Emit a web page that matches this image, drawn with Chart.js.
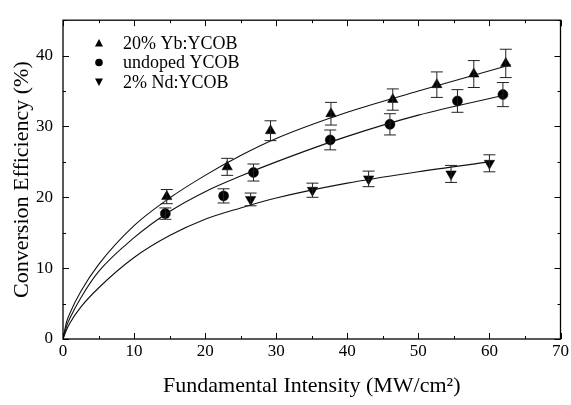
<!DOCTYPE html>
<html>
<head>
<meta charset="utf-8">
<script src="https://cdn.jsdelivr.net/npm/chart.js@4.4.1/dist/chart.umd.min.js"></script>
<style>
  body { margin: 0; background: #fff; }
  #wrap { width: 571px; height: 405px; }
</style>
</head>
<body>
<div id="wrap"><canvas id="myChart"></canvas></div>
<script>
// measured points
let ybX = [14.6, 23.1, 29.2, 37.7, 46.4, 52.6, 57.8, 62.3];
let ybY = [20.1, 24.3, 29.4, 31.8, 33.8, 35.9, 37.4, 38.9];
let ybErr = [1.0, 1.2, 1.4, 1.6, 1.5, 1.8, 1.9, 2.0];

let undX = [14.4, 22.6, 26.8, 37.6, 46.0, 55.5, 61.9];
let undY = [17.7, 20.2, 23.5, 28.1, 30.3, 33.6, 34.5];
let undErr = [0.8, 1.0, 1.2, 1.4, 1.5, 1.6, 1.7];

let ndX = [26.4, 35.1, 43.0, 54.6, 60.0];
let ndY = [19.7, 21.0, 22.6, 23.3, 24.8];
let ndErr = [0.9, 1.0, 1.1, 1.2, 1.2];

// fitted curves
let fitYbX = [0, 0.5, 1, 2.5, 5, 10, 15, 20, 25, 30, 40, 50, 63];
let fitYbY = [0, 2.4, 3.7, 6.7, 10.5, 16.0, 19.9, 23.1, 25.9, 28.3, 32.0, 35.0, 38.7];
let fitUndX = [0, 0.5, 1, 2.5, 5, 10, 15, 20, 25, 30, 40, 50, 62];
let fitUndY = [0, 1.8, 3.0, 5.8, 9.5, 14.3, 18.0, 20.8, 23.0, 25.0, 28.6, 31.6, 34.4];
let fitNdX = [0, 0.5, 1, 2.5, 5, 10, 15, 20, 25, 30, 40, 50, 60];
let fitNdY = [0, 1.3, 2.3, 4.5, 7.2, 11.5, 14.6, 16.9, 18.5, 19.9, 22.0, 23.6, 25.0];

let labels = ['20% Yb:YCOB', 'undoped YCOB', '2% Nd:YCOB'];

const serif = "'Liberation Serif', 'Times New Roman', serif";

function pts(xs, ys) {
    return xs.map((x, i) => ({ x: x, y: ys[i] }));
}

function fitLine(xs, ys) {
    return {
        data: pts(xs, ys),
        showLine: true,
        borderColor: '#111',
        borderWidth: 1.1,
        pointRadius: 0,
        cubicInterpolationMode: 'monotone',
        fill: false
    };
}

function markers(label, xs, ys, errs, style, rot, r) {
    return {
        label: label,
        data: pts(xs, ys),
        err: errs,
        showLine: false,
        pointStyle: style,
        pointRotation: rot,
        pointRadius: r,
        backgroundColor: '#000',
        borderColor: '#000',
        borderWidth: 0.5
    };
}

// error bars, frame with inward ticks, in-plot legend
const decor = {
    id: 'decor',
    afterDatasetsDraw(chart) {
        const ctx = chart.ctx;
        const xs = chart.scales.x, ys = chart.scales.y;
        ctx.save();
        ctx.strokeStyle = '#222';
        ctx.lineWidth = 1;
        chart.data.datasets.forEach(ds => {
            if (!ds.err) return;
            ds.data.forEach((p, i) => {
                const px = xs.getPixelForValue(p.x);
                const y1 = ys.getPixelForValue(p.y + ds.err[i]);
                const y2 = ys.getPixelForValue(p.y - ds.err[i]);
                ctx.beginPath();
                ctx.moveTo(px, y1); ctx.lineTo(px, y2);
                ctx.moveTo(px - 6, y1); ctx.lineTo(px + 6, y1);
                ctx.moveTo(px - 6, y2); ctx.lineTo(px + 6, y2);
                ctx.stroke();
            });
        });
        ctx.restore();
    },
    afterDraw(chart) {
        const ctx = chart.ctx;
        const a = chart.chartArea;
        const xs = chart.scales.x, ys = chart.scales.y;
        ctx.save();
        ctx.strokeStyle = '#000';
        ctx.lineWidth = 1.3;
        ctx.strokeRect(a.left, a.top, a.right - a.left, a.bottom - a.top);
        ctx.lineWidth = 1;
        xs.ticks.forEach(t => {
            const px = Math.round(xs.getPixelForValue(t.value)) + 0.5;
            const len = t.value % 10 === 0 ? 6 : 3;
            ctx.beginPath();
            ctx.moveTo(px, a.bottom); ctx.lineTo(px, a.bottom - len);
            ctx.moveTo(px, a.top); ctx.lineTo(px, a.top + len);
            ctx.stroke();
        });
        ys.ticks.forEach(t => {
            const py = Math.round(ys.getPixelForValue(t.value)) + 0.5;
            const len = t.value % 10 === 0 ? 6 : 3;
            ctx.beginPath();
            ctx.moveTo(a.left, py); ctx.lineTo(a.left + len, py);
            ctx.moveTo(a.right, py); ctx.lineTo(a.right - len, py);
            ctx.stroke();
        });

        // legend
        ctx.fillStyle = '#000';
        ctx.font = '18px ' + serif;
        ctx.textBaseline = 'middle';
        const rows = chart.data.datasets.filter(d => d.label);
        rows.forEach((ds, i) => {
            const mx = 99, my = 43 + i * 19.5;
            ctx.beginPath();
            if (ds.pointStyle === 'circle') {
                ctx.arc(mx, my, 3.8, 0, Math.PI * 2);
            } else if (ds.pointRotation === 180) {
                ctx.moveTo(mx - 4, my - 3.5); ctx.lineTo(mx + 4, my - 3.5); ctx.lineTo(mx, my + 4);
            } else {
                ctx.moveTo(mx - 4, my + 3.5); ctx.lineTo(mx + 4, my + 3.5); ctx.lineTo(mx, my - 4);
            }
            ctx.closePath();
            ctx.fill();
            ctx.fillText(ds.label, 123, my + 1);
        });
        ctx.restore();
    }
};

let myChart = document.getElementById('myChart').getContext('2d');

let chart = new Chart(myChart, {
    type: 'scatter',
    data: {
        datasets: [
            fitLine(fitYbX, fitYbY),
            fitLine(fitUndX, fitUndY),
            fitLine(fitNdX, fitNdY),
            markers(labels[0], ybX, ybY, ybErr, 'triangle', 0, 6),
            markers(labels[1], undX, undY, undErr, 'circle', 0, 5),
            markers(labels[2], ndX, ndY, ndErr, 'triangle', 180, 6)
        ]
    },
    options: {
        responsive: true,
        maintainAspectRatio: false,
        animation: false,
        layout: { padding: { top: 5, right: 8, left: 0, bottom: 0 } },
        plugins: {
            legend: { display: false },
            tooltip: { enabled: false }
        },
        scales: {
            x: {
                type: 'linear',
                min: 0,
                max: 70,
                grid: { display: false, drawTicks: false },
                border: { display: false },
                ticks: {
                    stepSize: 5,
                    autoSkip: false,
                    maxRotation: 0,
                    padding: 2,
                    color: '#000',
                    font: { family: serif, size: 17 },
                    callback: v => (v % 10 === 0 ? v : '')
                },
                title: {
                    display: true,
                    text: 'Fundamental Intensity (MW/cm\u00b2)',
                    color: '#000',
                    font: { family: serif, size: 22 },
                    padding: { top: 0, bottom: 6 }
                },
                afterFit: s => { s.height = 66; }
            },
            y: {
                type: 'linear',
                min: 0,
                max: 45,
                grid: { display: false, drawTicks: false },
                border: { display: false },
                ticks: {
                    stepSize: 5,
                    autoSkip: false,
                    padding: 10,
                    color: '#000',
                    font: { family: serif, size: 17 },
                    callback: v => (v % 10 === 0 ? v : '')
                },
                title: {
                    display: true,
                    text: 'Conversion Efficiency (%)',
                    color: '#000',
                    font: { family: serif, size: 22 },
                    padding: { top: 9, bottom: 0 }
                },
                afterFit: s => { s.width = 63; }
            }
        }
    },
    plugins: [decor]
});
</script>
</body>
</html>
